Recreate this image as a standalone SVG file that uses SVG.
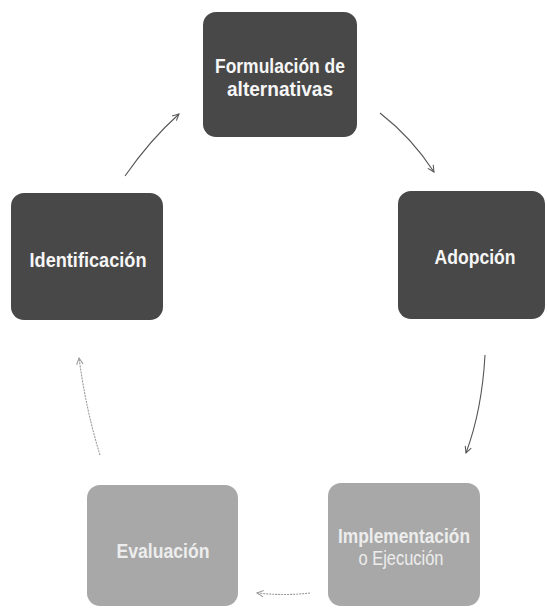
<svg xmlns="http://www.w3.org/2000/svg" width="547" height="608" viewBox="0 0 547 608">
  <style>
    .dark { fill: #484848; }
    .light { fill: #a8a8a8; }
    .lbl { font-family: "Liberation Sans", Arial, sans-serif; font-size: 21px; font-weight: bold; text-anchor: middle; dominant-baseline: central; }
    .dlbl { fill: #f6f6f6; }
    .llbl { fill: #ededed; }
    .reg { font-weight: normal; }
    .conn { fill: none; stroke-width: 1.1; }
    .c1 { stroke: #555555; }
    .c2 { stroke: #9a9a9a; stroke-dasharray: 2 1; }
  </style>
  <defs>
    <marker id="ahd" viewBox="0 0 10 10" refX="9" refY="5" markerWidth="8" markerHeight="8" orient="auto" markerUnits="userSpaceOnUse">
      <path d="M1,1 L9,5 L1,9" fill="none" stroke="#555555" stroke-width="1.3"/>
    </marker>
    <marker id="ahl" viewBox="0 0 10 10" refX="9" refY="5" markerWidth="8" markerHeight="8" orient="auto" markerUnits="userSpaceOnUse">
      <path d="M1,1 L9,5 L1,9" fill="none" stroke="#9a9a9a" stroke-width="1.3"/>
    </marker>
  </defs>

  <g id="connectors">
    <path class="conn c1" d="M125,176 Q150,140 179,114" marker-end="url(#ahd)"/>
    <path class="conn c1" d="M380,113 Q412,138 434,172" marker-end="url(#ahd)"/>
    <path class="conn c1" d="M485,355 Q482,410 466,453" marker-end="url(#ahd)"/>
    <path class="conn c2" d="M310,593 Q285,596 257,593" marker-end="url(#ahl)"/>
    <path class="conn c2" d="M100,455 Q86,410 79,358" marker-end="url(#ahl)"/>
  </g>

  <g id="node-formulacion">
    <rect class="dark" x="203" y="12" width="154" height="125" rx="13"/>
    <text class="lbl dlbl" x="280" y="65" textLength="130" lengthAdjust="spacingAndGlyphs">Formulación de</text>
    <text class="lbl dlbl" x="280" y="88" textLength="106" lengthAdjust="spacingAndGlyphs">alternativas</text>
  </g>

  <g id="node-adopcion">
    <rect class="dark" x="398" y="191" width="147" height="128" rx="13"/>
    <text class="lbl dlbl" x="475" y="256" textLength="81" lengthAdjust="spacingAndGlyphs">Adopción</text>
  </g>

  <g id="node-identificacion">
    <rect class="dark" x="11" y="193" width="152" height="127" rx="13"/>
    <text class="lbl dlbl" x="88" y="259" textLength="117" lengthAdjust="spacingAndGlyphs">Identificación</text>
  </g>

  <g id="node-implementacion">
    <rect class="light" x="328" y="483" width="152" height="123" rx="13"/>
    <text class="lbl llbl" x="404" y="535" textLength="132" lengthAdjust="spacingAndGlyphs">Implementación</text>
    <text class="lbl llbl reg" x="401" y="557" textLength="85" lengthAdjust="spacingAndGlyphs">o Ejecución</text>
  </g>

  <g id="node-evaluacion">
    <rect class="light" x="87" y="485" width="151" height="121" rx="13"/>
    <text class="lbl llbl" x="163" y="550" textLength="93" lengthAdjust="spacingAndGlyphs">Evaluación</text>
  </g>
</svg>
